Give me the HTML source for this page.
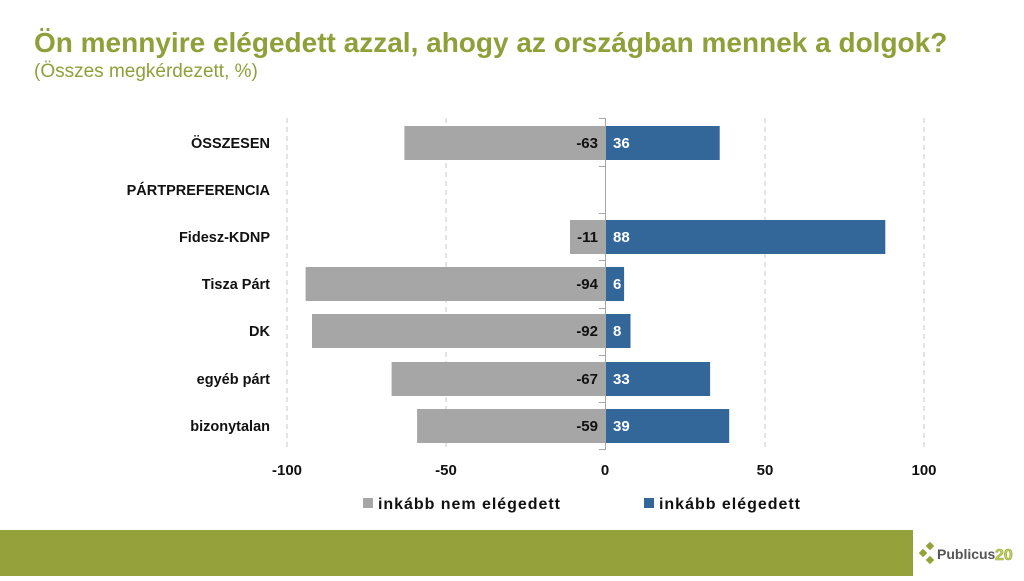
<!DOCTYPE html>
<html><head><meta charset="utf-8"><style>
body{margin:0;width:1024px;height:576px;overflow:hidden;background:#fff;font-family:"Liberation Sans",sans-serif}
</style></head><body>
<svg width="1024" height="576" xmlns="http://www.w3.org/2000/svg" font-family="Liberation Sans, sans-serif">
<text x="34" y="52" font-size="28" font-weight="bold" fill="#8fa03a">Ön mennyire elégedett azzal, ahogy az országban mennek a dolgok?</text>
<text x="34" y="77" font-size="19" fill="#8fa03a">(Összes megkérdezett, %)</text>
<g stroke="#c8c8c8" stroke-dasharray="5,4" stroke-width="1">
<line x1="287" y1="118" x2="287" y2="450"/><line x1="446" y1="118" x2="446" y2="450"/>
<line x1="765" y1="118" x2="765" y2="450"/><line x1="924" y1="118" x2="924" y2="450"/>
</g>
<g font-size="15" font-weight="bold">
<rect x="404.4" y="126" width="200.6" height="34" fill="#a6a6a6"/><rect x="605" y="126" width="114.7" height="34" fill="#336699"/>
<rect x="570" y="220" width="35" height="34" fill="#a6a6a6"/><rect x="605" y="220" width="280.3" height="34" fill="#336699"/>
<rect x="305.6" y="267" width="299.4" height="34" fill="#a6a6a6"/><rect x="605" y="267" width="19.1" height="34" fill="#336699"/>
<rect x="312" y="314" width="293" height="34" fill="#a6a6a6"/><rect x="605" y="314" width="25.5" height="34" fill="#336699"/>
<rect x="391.6" y="362" width="213.4" height="34" fill="#a6a6a6"/><rect x="605" y="362" width="105.1" height="34" fill="#336699"/>
<rect x="417.1" y="409" width="187.9" height="34" fill="#a6a6a6"/><rect x="605" y="409" width="124.2" height="34" fill="#336699"/>
<g text-anchor="end" fill="#111">
<text x="598" y="148">-63</text><text x="598" y="242">-11</text><text x="598" y="289">-94</text>
<text x="598" y="336">-92</text><text x="598" y="384">-67</text><text x="598" y="431">-59</text>
</g>
<g fill="#fff">
<text x="613" y="148">36</text><text x="613" y="242">88</text><text x="613" y="289">6</text>
<text x="613" y="336">8</text><text x="613" y="384">33</text><text x="613" y="431">39</text>
</g>
<g text-anchor="end" fill="#111" font-size="14.5">
<text x="270" y="148">ÖSSZESEN</text><text x="270" y="195">PÁRTPREFERENCIA</text>
<text x="270" y="242">Fidesz-KDNP</text><text x="270" y="289">Tisza Párt</text>
<text x="270" y="336">DK</text><text x="270" y="384">egyéb párt</text><text x="270" y="431">bizonytalan</text>
</g>
<g text-anchor="middle" fill="#111">
<text x="287" y="475">-100</text><text x="446" y="475">-50</text><text x="605" y="475">0</text>
<text x="765" y="475">50</text><text x="924" y="475">100</text>
</g>
<rect x="363" y="498" width="10" height="10" fill="#a6a6a6"/><text x="378" y="509" fill="#111" font-size="16" textLength="182">inkább nem elégedett</text>
<rect x="644" y="498" width="10" height="10" fill="#336699"/><text x="659" y="509" fill="#111" font-size="16" textLength="141">inkább elégedett</text>
</g>
<g stroke="#a6a6a6" stroke-width="1">
<line x1="605.5" y1="118" x2="605.5" y2="450"/>
<line x1="599" y1="118.5" x2="605" y2="118.5"/><line x1="599" y1="166.5" x2="605" y2="166.5"/>
<line x1="599" y1="213.5" x2="605" y2="213.5"/><line x1="599" y1="260.5" x2="605" y2="260.5"/>
<line x1="599" y1="308.5" x2="605" y2="308.5"/><line x1="599" y1="355.5" x2="605" y2="355.5"/>
<line x1="599" y1="402.5" x2="605" y2="402.5"/><line x1="599" y1="449.5" x2="605" y2="449.5"/>
</g>
<rect x="0" y="530" width="913" height="46" fill="#95a23b"/>
<g fill="#95a23b"><rect x="920" y="550" width="6" height="6" transform="rotate(45 923 553)"/>
<rect x="927" y="543" width="6" height="6" transform="rotate(45 930 546)"/>
<rect x="927" y="557" width="6" height="6" transform="rotate(45 930 560)"/></g>
<text x="937" y="559" font-size="14" font-weight="bold" fill="#555">Publicus</text>
<text x="995" y="560" font-size="16" font-weight="bold" fill="#c3d45a" stroke="#8fa03a" stroke-width="0.6">20</text>
</svg>
</body></html>
